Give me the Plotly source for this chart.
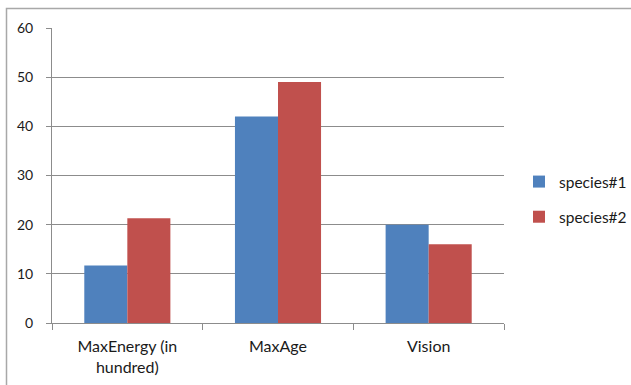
import plotly.graph_objects as go

categories = ["MaxEnergy (in<br>hundred)", "MaxAge", "Vision"]
species1 = [11.7, 42, 20]
species2 = [21.3, 49, 16]
series_names = ["species#1", "species#2"]
colors = ["#4F81BD", "#C0504D"]

W, H = 631, 385
L, R, T, B = 52, 504, 28, 323

fig = go.Figure()
for name, vals, col in zip(series_names, [species1, species2], colors):
    fig.add_trace(go.Bar(x=categories, y=vals, name=name, marker_color=col,
                         marker_line_width=0, legendgroup=name))

def px_x(p):
    return (p - L) / (R - L)

def px_y(p):
    return (B - p) / (B - T)

fig.add_shape(type="rect", xref="paper", yref="paper",
              x0=px_x(6.5), x1=px_x(640), y0=px_y(400), y1=px_y(8.5),
              line=dict(color="#a8a8a8", width=1.5), layer="below")

fig.update_layout(
    width=W, height=H,
    margin=dict(l=L, r=W - R, t=T, b=H - B, pad=0, autoexpand=False),
    paper_bgcolor="white", plot_bgcolor="white",
    barmode="group", bargap=1.5 / 3.5, bargroupgap=0,
    font=dict(family="Lato, Open Sans, sans-serif", size=15, color="#1a1a1a"),
    showlegend=True,
    legend=dict(x=px_x(519), y=px_y(199.5), xanchor="left", yanchor="middle",
                font=dict(size=15.5), tracegroupgap=12, itemwidth=30,
                bgcolor="rgba(0,0,0,0)"),
    xaxis=dict(showline=True, linecolor="#8c8c8c", linewidth=1,
               ticks="outside", tickson="boundaries", ticklen=6, tickcolor="#8c8c8c",
               showgrid=False, tickfont=dict(size=16), ticklabelstandoff=9),
    yaxis=dict(range=[0, 60], dtick=10, showline=True, linecolor="#8c8c8c", linewidth=1,
               ticks="outside", ticklen=5, tickcolor="#8c8c8c",
               showgrid=True, gridcolor="#8c8c8c", gridwidth=1, zeroline=False,
               tickfont=dict(size=14), ticklabelstandoff=10),
)

fig.write_html("out.html")
